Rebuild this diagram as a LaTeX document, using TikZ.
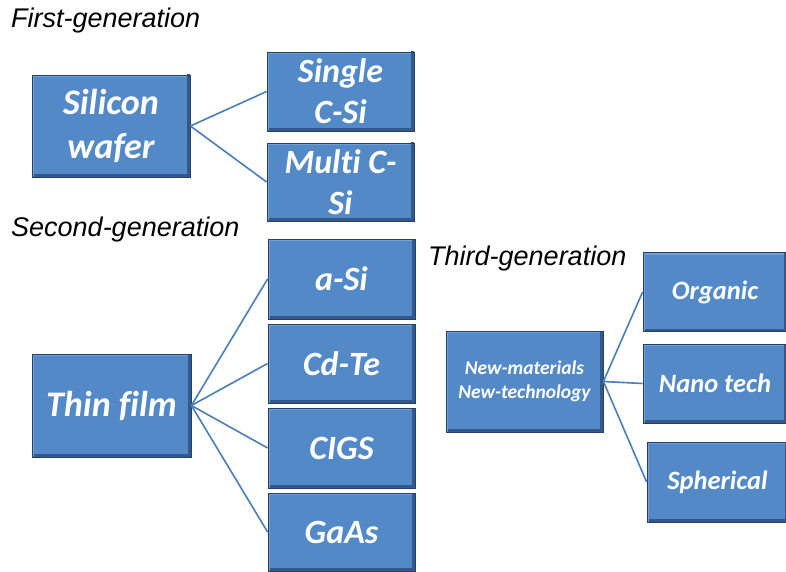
\documentclass[tikz,border=0pt]{standalone}
\usepackage{fontspec}
\newfontfamily\boxfont{Carlito}[Ligatures=NoCommon]
\newfontfamily\headfont{Liberation Sans}
\definecolor{boxblue}{RGB}{84,137,200}
\definecolor{boxlight}{RGB}{110,160,218}
\definecolor{boxdark}{RGB}{52,88,140}
\definecolor{edgedark}{RGB}{40,64,100}
\definecolor{linkblue}{RGB}{74,126,187}
\begin{document}
\begin{tikzpicture}[x=1pt,y=-1pt,
  box/.style={draw=edgedark,line width=0.8pt,fill=boxblue,inner sep=0pt,align=center,
    text=white,font=\boxfont\bfseries\itshape,
    path picture={
      \draw[boxdark,line width=3pt]
        ([xshift=-1.5pt,yshift=1.5pt]path picture bounding box.north east) --
        ([xshift=-1.5pt,yshift=1.5pt]path picture bounding box.south east) --
        ([xshift=1.5pt,yshift=1.5pt]path picture bounding box.south west);
      \draw[boxlight,line width=2pt]
        ([xshift=1pt,yshift=1pt]path picture bounding box.south west) --
        ([xshift=1pt,yshift=-1pt]path picture bounding box.north west) --
        ([xshift=-3pt,yshift=-1pt]path picture bounding box.north east);
    }},
  big/.style={box,minimum width=158pt,minimum height=102pt},
  mid/.style={box,minimum width=147pt,minimum height=79pt},
  sml/.style={box,minimum width=142pt,minimum height=79pt},
  bigtxt/.style={font=\boxfont\bfseries\itshape\fontsize{36}{44}\selectfont},
  midtxt/.style={font=\boxfont\bfseries\itshape\fontsize{34}{41}\selectfont},
  smltxt/.style={font=\boxfont\bfseries\itshape\fontsize{26.5}{30}\selectfont},
  head/.style={anchor=west,font=\headfont\itshape\fontsize{27}{30}\selectfont,inner sep=0pt},
  link/.style={draw=linkblue,line width=1.6pt}]
\useasboundingbox (0,0) rectangle (786,572);
\fill[white] (0,0) rectangle (786,572);

\node[head] (h1) at (11,21) {First-generation};
\node[head] (h2) at (11,229.5) {Second-generation};
\node[head] (h3) at (428,259) {Third-generation};

\node[big,bigtxt] (sw) at (111,126) {Silicon\\wafer};
\node[mid,midtxt] (sc) at (340.5,91.5) {Single\\C-Si};
\node[mid,midtxt,minimum height=78pt] (mc) at (340.5,182) {Multi C-\\Si};

\node[big,bigtxt,minimum width=159pt,minimum height=103pt] (tf) at (111.5,405.5) {Thin film};
\node[mid,midtxt,minimum height=80pt] (as) at (341.5,279) {a-Si};
\node[mid,midtxt] (cd) at (341.5,363.5) {Cd-Te};
\node[mid,midtxt,minimum height=80pt] (ci) at (341.5,448) {CIGS};
\node[mid,midtxt,minimum height=78pt] (ga) at (341.5,532) {GaAs};

\node[big,minimum width=157pt,minimum height=101pt,font=\boxfont\bfseries\itshape\fontsize{19.5}{23.5}\selectfont] (nm) at (524.5,381.5) {New-materials\\New-technology};
\node[sml,smltxt,minimum width=144pt] (or) at (715,292) {Organic};
\node[sml,smltxt,minimum width=144pt] (nt) at (715,383.5) {Nano tech};
\node[sml,smltxt,minimum width=141pt,minimum height=80pt] (sp) at (717.5,482) {Spherical};

\draw[link] (sw.east) -- (sc.west);
\draw[link] (sw.east) -- (mc.west);
\draw[link] (tf.east) -- (as.west);
\draw[link] (tf.east) -- (cd.west);
\draw[link] (tf.east) -- (ci.west);
\draw[link] (tf.east) -- (ga.west);
\draw[link] (nm.east) -- (or.west);
\draw[link] (nm.east) -- (nt.west);
\draw[link] (nm.east) -- (sp.west);
\end{tikzpicture}
\end{document}
